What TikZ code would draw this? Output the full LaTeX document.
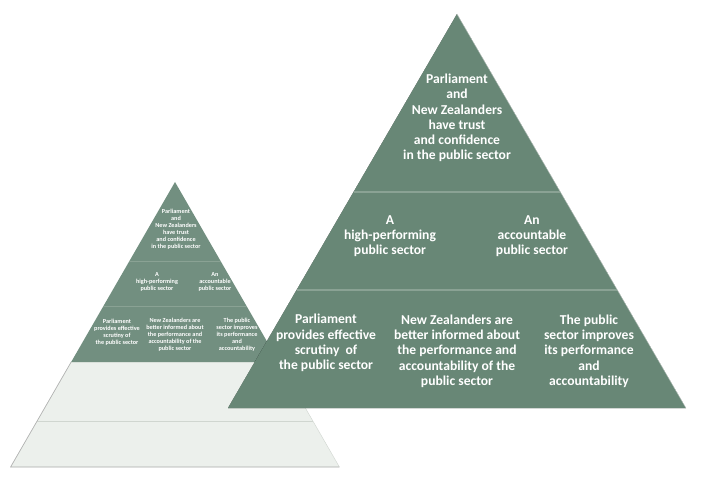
\documentclass[tikz,border=0pt]{standalone}
\usepackage{fontspec}
\setmainfont{Carlito}
\usetikzlibrary{calc}
\definecolor{sage}{RGB}{104,135,118}
\definecolor{sagepale}{RGB}{114,143,128}
\definecolor{sageline}{RGB}{138,162,148}
\definecolor{mist}{RGB}{236,240,236}
\definecolor{mistline}{RGB}{208,214,208}

\begin{document}
\begin{tikzpicture}[
    x=1pt, y=-1pt,
    bigtext/.style={text=white, align=center, font=\bfseries\fontsize{13.6}{15.3}\selectfont},
    smalltext/.style={text=white, align=center, font=\bfseries\fontsize{6.2}{7}\selectfont},
    divider/.style={draw=sageline, line width=1.2pt}]

    \useasboundingbox[fill=white] (0,0) rectangle (711,494);

    % small pyramid
    \coordinate (s-apex) at (175,182);
    \coordinate (s-left) at (10.6,467);
    \coordinate (s-right) at (339.4,467);
    \foreach \t [count=\i] in {0.2772,0.4351,0.6316,0.8386} {
        \coordinate (s-l\i) at ($(s-apex)!\t!(s-left)$);
        \coordinate (s-r\i) at ($(s-apex)!\t!(s-right)$);
    }
    \draw [draw=mistline, fill=mist] (s-l3) -- (s-left) -- (s-right) -- (s-r3) -- cycle;
    \draw [mistline, line width=1pt] (s-l4) -- (s-r4);
    \draw [gray!60, line width=0.6pt] (s-l3) -- (s-left) -- (s-right);
    \fill [sagepale] (s-apex) -- (s-l3) -- (s-r3) -- cycle;
    \draw [divider, line width=0.7pt] (s-l1) -- (s-r1);
    \draw [divider, line width=0.7pt] (s-l2) -- (s-r2);

    \node [smalltext] (s-trust) at (176,229) {Parliament\\and\\New Zealanders\\have trust\\and confidence\\in the public sector};
    \node [smalltext] (s-high) at (157,282) {A\\high-performing\\public sector};
    \node [smalltext] (s-acc) at (215,282) {An\\accountable\\public sector};
    \node [smalltext] (s-scrutiny) at (117,332) {Parliament\\provides effective\\scrutiny of\\the public sector};
    \node [smalltext] (s-informed) at (175,335) {New Zealanders are\\better informed about\\the performance and\\accountability of the\\public sector};
    \node [smalltext] (s-improves) at (237,335) {The public\\sector improves\\its performance\\and\\accountability};

    % big pyramid
    \coordinate (b-apex) at (457,14);
    \coordinate (b-left) at (228,408);
    \coordinate (b-right) at (686,408);
    \foreach \t [count=\i] in {0.4518,0.7005} {
        \coordinate (b-l\i) at ($(b-apex)!\t!(b-left)$);
        \coordinate (b-r\i) at ($(b-apex)!\t!(b-right)$);
    }

    % shadow
    \foreach \k in {1,...,14}
        \fill [black, opacity=0.055, shift={(0.8*\k,1.2*\k)}] (b-apex) -- (b-left) -- (b-right) -- cycle;

    \fill [sage] (b-apex) -- (b-left) -- (b-right) -- cycle;
    \draw [white, opacity=0.5, line width=0.6pt] (b-apex) -- (b-right);
    \draw [divider] (b-l1) -- (b-r1);
    \draw [divider] (b-l2) -- (b-r2);

    \node [bigtext] (trust) at (457,118) {Parliament\\and\\New Zealanders\\have trust\\and confidence\\in the public sector};
    \node [bigtext] (high) at (390,236) {A\\high-performing\\public sector};
    \node [bigtext] (acc) at (532,236) {An\\accountable\\public sector};
    \node [bigtext] (scrutiny) at (326,343) {Parliament\\provides effective\\scrutiny\ \ of\\the public sector};
    \node [bigtext] (informed) at (457,351) {New Zealanders are\\better informed about\\the performance and\\accountability of the\\public sector};
    \node [bigtext] (improves) at (589,351) {The public\\sector improves\\its performance\\and\\accountability};

\end{tikzpicture}
\end{document}
